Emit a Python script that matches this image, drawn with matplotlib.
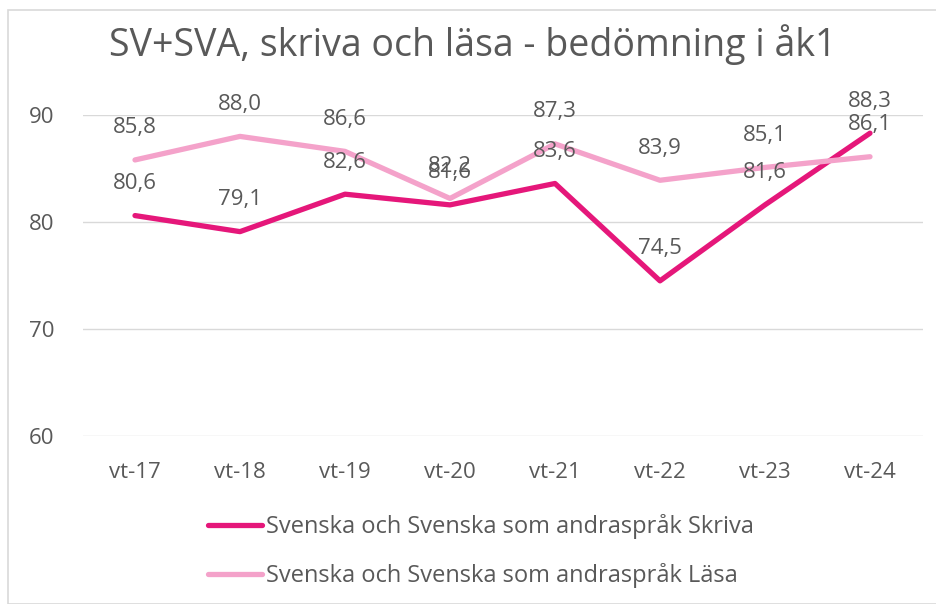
import matplotlib.pyplot as plt
from matplotlib.patches import Rectangle

plt.rcParams['font.family'] = ['Open Sans', 'DejaVu Sans']

categories = ['vt-17', 'vt-18', 'vt-19', 'vt-20', 'vt-21', 'vt-22', 'vt-23', 'vt-24']
skriva = [80.6, 79.1, 82.6, 81.6, 83.6, 74.5, 81.6, 88.3]
lasa = [85.8, 88.0, 86.6, 82.2, 87.3, 83.9, 85.1, 86.1]
name_skriva = 'Svenska och Svenska som andraspråk Skriva'
name_lasa = 'Svenska och Svenska som andraspråk Läsa'
title = 'SV+SVA, skriva och läsa - bedömning i åk1'

txt = '#595959'
c_skriva = '#E5177A'
c_lasa = '#F4A2CA'

fig = plt.figure(figsize=(9.36, 6.04), dpi=100)
fig.patches.append(Rectangle((8 / 936, 0), 1, 1 - 10 / 604, transform=fig.transFigure,
                             fill=False, edgecolor='#D9D9D9', linewidth=1.2))
ax = fig.add_axes([82.5 / 936, 168 / 604, 840 / 936, 321 / 604])

x = list(range(len(categories)))
ax.plot(x, skriva, color=c_skriva, lw=3.8, label=name_skriva, zorder=3, solid_capstyle='round')
ax.plot(x, lasa, color=c_lasa, lw=3.8, label=name_lasa, zorder=3, solid_capstyle='round')

for xi, v in zip(x, lasa):
    ax.annotate(f'{v:.1f}'.replace('.', ','), (xi, v), xytext=(0, 23), textcoords='offset points',
                ha='center', va='center', fontsize=16, color=txt, annotation_clip=False)
for xi, v in zip(x, skriva):
    ax.annotate(f'{v:.1f}'.replace('.', ','), (xi, v), xytext=(0, 23), textcoords='offset points',
                ha='center', va='center', fontsize=16, color=txt, annotation_clip=False)

ax.set_xlim(-0.5, 7.5)
ax.set_ylim(60, 90)
ax.set_yticks([60, 70, 80, 90])
ax.set_xticks(x)
ax.set_xticklabels(categories)
ax.grid(axis='y', color='#D9D9D9', lw=1)
ax.set_axisbelow(True)
for s in ax.spines.values():
    s.set_visible(False)
ax.tick_params(length=0, labelsize=16, labelcolor=txt)
ax.tick_params(axis='y', pad=20)
ax.tick_params(axis='x', pad=19)

fig.text(473 / 936, 1 - 45 / 604, title, ha='center', va='center', fontsize=27, color=txt)

ax.legend(loc='center left', bbox_to_anchor=(208 / 936, 1 - 551 / 604), bbox_transform=fig.transFigure,
          frameon=False, fontsize=17, labelcolor=txt, ncol=1, handlelength=2.3,
          handletextpad=0.15, labelspacing=1.0, borderaxespad=0, borderpad=0)

fig.savefig('out.png', dpi=100)
